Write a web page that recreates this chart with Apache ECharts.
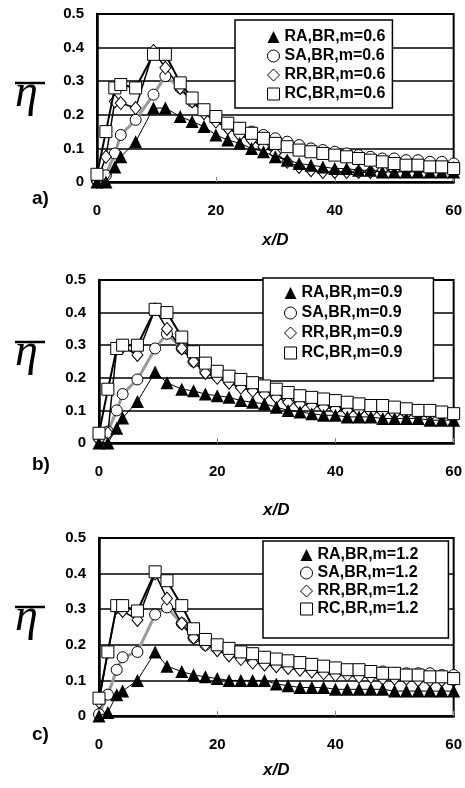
<!DOCTYPE html>
<html><head><meta charset="utf-8">
<script src="https://cdn.jsdelivr.net/npm/echarts@6/dist/echarts.min.js"></script>
<style>html,body{margin:0;padding:0;background:#fff}#c{width:465px;height:788px}</style>
</head><body><div id="c"></div>
<script>
// x/D positions of the measurement points
const xD = [0, 1.5, 3, 4, 6.5, 9.5, 11.5, 14, 16, 18, 20, 22, 24, 26, 28, 30, 32, 34, 36, 38, 40, 42, 44, 46, 48, 50, 52, 54, 56, 58, 60];

// Panel a) m=0.6
const raA = [0, 0, 0.045, 0.075, 0.12, 0.22, 0.22, 0.195, 0.18, 0.165, 0.14, 0.125, 0.115, 0.1, 0.09, 0.075, 0.065, 0.055, 0.05, 0.045, 0.04, 0.04, 0.035, 0.035, 0.03, 0.03, 0.03, 0.03, 0.03, 0.03, 0.03];
const saA = [0.005, 0.02, 0.085, 0.14, 0.185, 0.26, 0.315, 0.28, 0.24, 0.21, 0.19, 0.175, 0.16, 0.15, 0.14, 0.13, 0.12, 0.11, 0.1, 0.095, 0.09, 0.085, 0.08, 0.075, 0.07, 0.07, 0.065, 0.065, 0.06, 0.06, 0.055];
const rrA = [0, 0.075, 0.24, 0.235, 0.22, 0.39, 0.34, 0.28, 0.24, 0.205, 0.18, 0.16, 0.14, 0.125, 0.105, 0.085, 0.06, 0.045, 0.035, 0.03, 0.03, 0.03, 0.03, 0.03, 0.035, 0.035, 0.035, 0.035, 0.04, 0.04, 0.04];
const rcA = [0.023, 0.15, 0.28, 0.29, 0.28, 0.38, 0.38, 0.295, 0.25, 0.215, 0.195, 0.175, 0.16, 0.145, 0.13, 0.115, 0.105, 0.095, 0.09, 0.085, 0.08, 0.075, 0.07, 0.065, 0.06, 0.055, 0.05, 0.05, 0.045, 0.045, 0.04];

// Panel b) m=0.9
const raB = [0, 0, 0.045, 0.077, 0.127, 0.218, 0.185, 0.165, 0.16, 0.15, 0.145, 0.14, 0.13, 0.125, 0.12, 0.11, 0.1, 0.095, 0.09, 0.085, 0.085, 0.08, 0.08, 0.08, 0.075, 0.075, 0.075, 0.075, 0.07, 0.07, 0.07];
const saB = [0.02, 0.035, 0.1, 0.15, 0.195, 0.29, 0.335, 0.29, 0.25, 0.22, 0.205, 0.19, 0.175, 0.165, 0.155, 0.145, 0.135, 0.13, 0.125, 0.12, 0.115, 0.11, 0.105, 0.1, 0.1, 0.095, 0.095, 0.09, 0.09, 0.09, 0.085];
const rrB = [0.01, 0.03, 0.29, 0.295, 0.27, 0.41, 0.35, 0.29, 0.25, 0.215, 0.2, 0.185, 0.17, 0.16, 0.15, 0.14, 0.125, 0.12, 0.115, 0.11, 0.105, 0.1, 0.1, 0.095, 0.095, 0.09, 0.09, 0.09, 0.085, 0.085, 0.085];
const rcB = [0.03, 0.165, 0.29, 0.3, 0.3, 0.41, 0.4, 0.325, 0.28, 0.245, 0.22, 0.205, 0.195, 0.185, 0.175, 0.165, 0.155, 0.145, 0.14, 0.135, 0.13, 0.125, 0.12, 0.115, 0.115, 0.11, 0.105, 0.1, 0.1, 0.095, 0.09];

// Panel c) m=1.2
const raC = [0, 0.01, 0.06, 0.07, 0.1, 0.18, 0.14, 0.125, 0.115, 0.11, 0.105, 0.1, 0.1, 0.1, 0.1, 0.09, 0.085, 0.08, 0.08, 0.08, 0.075, 0.075, 0.075, 0.075, 0.075, 0.07, 0.07, 0.07, 0.07, 0.07, 0.07];
const saC = [0.005, 0.06, 0.13, 0.165, 0.18, 0.285, 0.305, 0.26, 0.22, 0.2, 0.19, 0.18, 0.175, 0.17, 0.165, 0.16, 0.155, 0.15, 0.145, 0.14, 0.135, 0.13, 0.13, 0.125, 0.125, 0.12, 0.12, 0.12, 0.12, 0.115, 0.115];
const rrC = [0.04, 0.18, 0.305, 0.295, 0.27, 0.4, 0.33, 0.26, 0.22, 0.2, 0.185, 0.17, 0.16, 0.15, 0.145, 0.14, 0.135, 0.13, 0.125, 0.12, 0.115, 0.115, 0.11, 0.11, 0.105, 0.105, 0.105, 0.1, 0.1, 0.1, 0.1];
const rcC = [0.05, 0.18, 0.31, 0.31, 0.295, 0.405, 0.38, 0.31, 0.245, 0.215, 0.2, 0.19, 0.18, 0.175, 0.165, 0.16, 0.155, 0.15, 0.145, 0.14, 0.135, 0.13, 0.13, 0.125, 0.12, 0.12, 0.115, 0.115, 0.11, 0.11, 0.105];

const seriesTags = ['RA', 'SA', 'RR', 'RC'];
const mValues = ['0.6', '0.9', '1.2'];
const panelLetters = ['a)', 'b)', 'c)'];
const panelData = [[raA, saA, rrA, rcA], [raB, saB, rrB, rcB], [raC, saC, rrC, rcC]];
const xTitle = 'x/D';
const yTitle = 'η';

const FONT = '"Liberation Sans", Arial, sans-serif';
const layout = [
  {grid: {left: 97, top: 14, right: 9, height: 168}, nameGap: 50,
   legend: {left: 235, top: 20, padding: [9, 7, 6, 32], itemGap: 3},
   eta: 83, letter: 200},
  {grid: {left: 99, top: 280, right: 8, height: 163}, nameGap: 59,
   legend: {left: 263, top: 278, padding: [7, 31, 20, 21], itemGap: 4},
   eta: 342, letter: 466},
  {grid: {left: 99, top: 538, right: 8, height: 178}, nameGap: 46,
   legend: {left: 263, top: 541, padding: [6, 30, 21, 37], itemGap: 2},
   eta: 607, letter: 736}
];

const styles = [
  {symbol: 'triangle', symbolSize: 13, itemStyle: {color: '#000', borderColor: '#000', borderWidth: 0}, lineStyle: {color: '#000', width: 1}, z: 3},
  {symbol: 'circle', symbolSize: 11, itemStyle: {color: '#fff', borderColor: '#000', borderWidth: 1}, lineStyle: {color: '#9a9a9a', width: 3}, z: 2},
  {symbol: 'diamond', symbolSize: [11, 13], itemStyle: {color: '#fff', borderColor: '#000', borderWidth: 1}, lineStyle: {color: '#000', width: 1.5}, z: 2},
  {symbol: 'rect', symbolSize: 12, itemStyle: {color: '#fff', borderColor: '#000', borderWidth: 1}, lineStyle: {color: '#000', width: 2}, z: 4}
];
const legendIcons = ['triangle', 'circle', 'diamond', 'rect'];

const grids = [], xAxes = [], yAxes = [], series = [], legends = [], graphics = [];
layout.forEach((L, p) => {
  grids.push(Object.assign({show: true, borderColor: '#000', borderWidth: 2, backgroundColor: '#fff'}, L.grid));
  xAxes.push({
    type: 'value', gridIndex: p, min: 0, max: 60, interval: 20,
    axisLine: {show: true, lineStyle: {color: '#000', width: 2.5}},
    axisTick: {show: true, inside: true, length: 5, lineStyle: {color: '#888', width: 1}},
    axisLabel: {color: '#000', fontWeight: 'bold', fontSize: 15, fontFamily: FONT, margin: 21},
    splitLine: {show: false},
    name: xTitle, nameLocation: 'middle', nameGap: L.nameGap,
    nameTextStyle: {color: '#000', fontStyle: 'italic', fontWeight: 'bold', fontSize: 17, fontFamily: FONT}
  });
  yAxes.push({
    type: 'value', gridIndex: p, min: 0, max: 0.5, interval: 0.1,
    axisLine: {show: true, lineStyle: {color: '#000', width: 2.5}},
    axisTick: {show: false},
    axisLabel: {color: '#000', fontWeight: 'bold', fontSize: 15, fontFamily: FONT, margin: 13},
    splitLine: {show: true, lineStyle: {color: '#000', width: 1.5}}
  });
  const names = seriesTags.map(t => t + ',BR,m=' + mValues[p]);
  const order = [1, 2, 0, 3];
  order.forEach(k => {
    const s = styles[k];
    series.push({
      type: 'line', name: names[k], xAxisIndex: p, yAxisIndex: p,
      data: xD.map((x, i) => [x, panelData[p][k][i]]),
      symbol: s.symbol, symbolSize: s.symbolSize, showAllSymbol: true,
      itemStyle: s.itemStyle, lineStyle: s.lineStyle, z: s.z,
      animation: false, silent: true
    });
  });
  legends.push(Object.assign({
    orient: 'vertical', selectedMode: false,
    backgroundColor: '#fff', borderColor: '#000', borderWidth: 1.5,
    itemWidth: 12, itemHeight: 12,
    textStyle: {color: '#000', fontWeight: 'bold', fontSize: 16, fontFamily: FONT},
    data: names.map((n, k) => ({name: n, icon: legendIcons[k], itemStyle: styles[k].itemStyle}))
  }, L.legend));
  graphics.push({type: 'line', shape: {x1: 15, y1: L.eta, x2: 45, y2: L.eta}, style: {stroke: '#000', lineWidth: 2.5}});
  graphics.push({type: 'text', left: 15, top: L.eta - 12, style: {text: yTitle, font: 'italic 46px "Liberation Serif", serif', fill: '#000'}});
  graphics.push({type: 'text', left: 32, top: L.letter - 11, style: {text: panelLetters[p], font: 'bold 19px ' + FONT, fill: '#000'}});
});

const chart = echarts.init(document.getElementById('c'), null, {renderer: 'canvas'});
chart.setOption({
  animation: false, backgroundColor: '#fff',
  grid: grids, xAxis: xAxes, yAxis: yAxes, series: series, legend: legends, graphic: graphics
});
</script></body></html>
